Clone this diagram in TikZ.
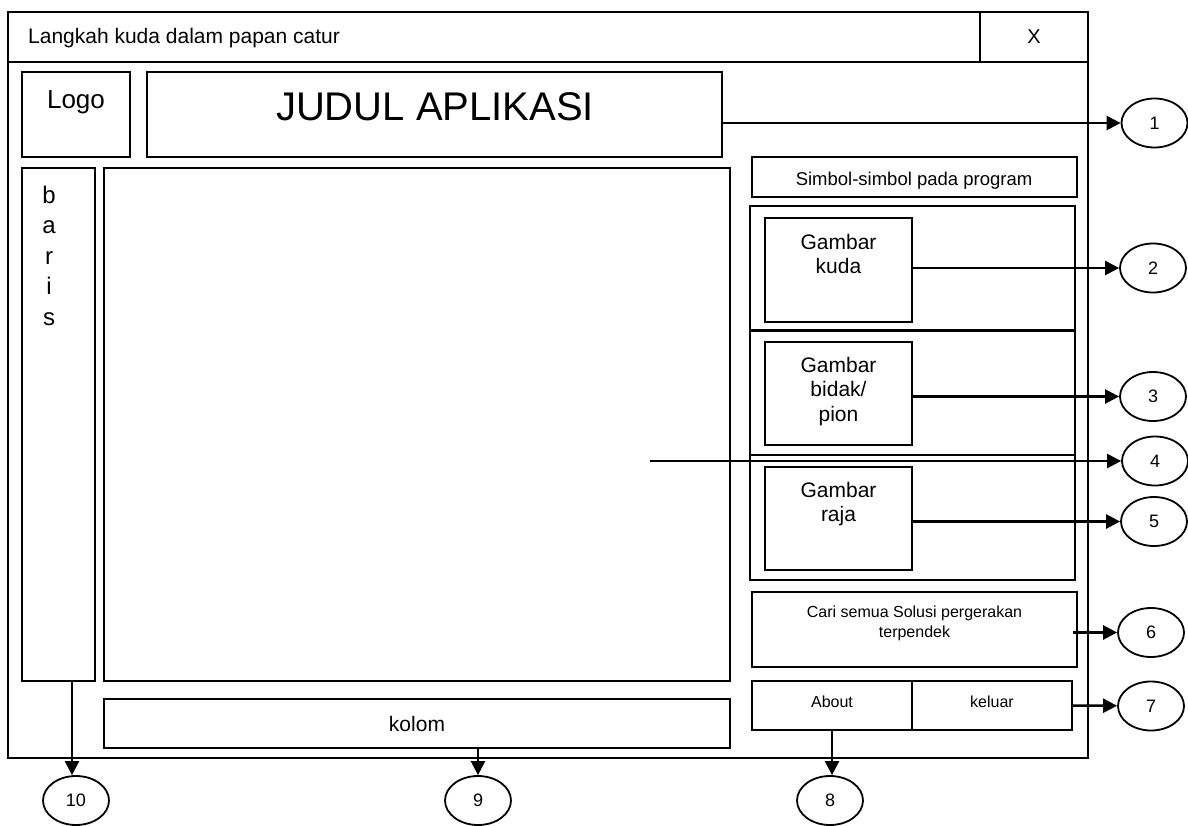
\documentclass[tikz,border=0pt]{standalone}
\usepackage{fontspec}
\setmainfont{Liberation Sans}
\usetikzlibrary{arrows.meta, positioning, fit, shapes.geometric}
\newcommand{\fsz}[2]{\fontsize{#1}{#2}\selectfont}

\begin{document}
\begin{tikzpicture}[x=1pt, y=-1pt,
    box/.style={draw, line width=2.2pt, inner sep=0pt},
    num/.style={draw, ellipse, line width=1.8pt, minimum width=66pt, minimum height=49pt, inner sep=0pt, font=\fsz{18}{20}},
    arr/.style={line width=2.5pt, -{Triangle[length=14pt,width=14pt]}},
    txt/.style={inner sep=0pt, align=center}]
    \useasboundingbox (0,0) rectangle (1188,825);
    % window frame
    \node[box, fit={(8,12) (1088,758)}] (win) {};
    \node[box, fit={(8,12) (1088,62)}] (bar) {};
    \node[box, fit={(980,12) (1088,62)}] (close) {};
    \node[txt, anchor=base west, font=\fsz{21}{24}] (ttl) at (28,43) {Langkah kuda dalam papan catur};
    \node[txt, anchor=base, font=\fsz{20}{24}] (xlbl) at (1034,43) {X};
    % header
    \node[box, fit={(22,72) (130,157)}] (logo) {};
    \node[txt, anchor=base, font=\fsz{26}{30}] (logotxt) at (76,108) {Logo};
    \node[box, fit={(147,72) (722,157)}] (judul) {};
    \node[txt, anchor=base, font=\fsz{40}{44}] (judultxt) at (435,120) {JUDUL APLIKASI};
    % board, rows and columns
    \node[box, fit={(22,168) (95,681)}] (baris) {};
    \foreach \ch [count=\i from 0] in {b,a,r,i,s}
        \node[txt, anchor=base, font=\fsz{24}{28}] (baris\ch) at (49,{203+30.5*\i}) {\ch};
    \node[box, fit={(104,168) (730,681)}] (papan) {};
    \node[box, fit={(104,699) (730,748)}] (kolom) {};
    \node[txt, anchor=base, font=\fsz{21}{24}] (kolomtxt) at (417,731) {kolom};
    % symbols
    \node[box, fit={(752,157) (1077,197)}] (simbol) {};
    \node[txt, anchor=base, font=\fsz{18.5}{22}] (simboltxt) at (914,185) {Simbol-simbol pada program};
    \node[box, fit={(750,206) (1075,580)}] (grup) {};
    \draw[line width=2.2pt] (750,330.5) -- (1075,330.5);
    \draw[line width=2.2pt] (750,455) -- (1075,455);
    \node[box, fit={(765,218) (912,322)}] (kuda) {};
    \node[txt, anchor=north, font=\fsz{21}{24}] (kudatxt) at (838.5,234) {Gambar\\kuda};
    \node[box, fit={(765,342) (912,445)}] (bidak) {};
    \node[txt, anchor=north, font=\fsz{21}{24.5}] (bidaktxt) at (838.5,357) {Gambar\\bidak/\\pion};
    \node[box, fit={(765,467) (912,570)}] (raja) {};
    \node[txt, anchor=north, font=\fsz{21}{24}] (rajatxt) at (838.5,482) {Gambar\\raja};
    % buttons
    \node[box, fit={(752,592) (1077,667)}] (cari) {};
    \node[txt, anchor=north, font=\fsz{16}{20}] (caritxt) at (914.5,605.5) {Cari semua Solusi pergerakan\\terpendek};
    \node[box, fit={(752,681) (912,730)}] (about) {};
    \node[box, fit={(912,681) (1072,730)}] (keluar) {};
    \node[txt, anchor=base, font=\fsz{16}{20}] (abouttxt) at (832,707) {About};
    \node[txt, anchor=base, font=\fsz{16}{20}] (keluartxt) at (992,707) {keluar};
    % numbered callouts
    \node[num] (n1) at (1154.5,123) {1};
    \node[num] (n2) at (1153,268) {2};
    \node[num] (n3) at (1153,396.5) {3};
    \node[num] (n4) at (1155,461) {4};
    \node[num] (n5) at (1154,521.5) {5};
    \node[num] (n6) at (1151,632.5) {6};
    \node[num] (n7) at (1151,706) {7};
    \node[num] (n8) at (830,800.5) {8};
    \node[num] (n9) at (478,800.5) {9};
    \node[num] (n10) at (76,800.5) {10};
    \coordinate (p4) at (650,461);
    \coordinate (p6) at (1073,632.5);
    \coordinate (p10) at (72,681);
    \draw[arr] (n1 -| judul.east) -- (n1);
    \draw[arr] (n2 -| kuda.east) -- (n2);
    \draw[arr] (n3 -| bidak.east) -- (n3);
    \draw[arr] (p4) -- (n4);
    \draw[arr] (n5 -| raja.east) -- (n5);
    \draw[arr] (p6) -- (n6);
    \draw[arr] (keluar.east) -- (n7);
    \draw[arr] (about.south) -- (about.south |- n8.north);
    \draw[arr] (n9 |- kolom.south) -- (n9);
    \draw[arr] (p10) -- (p10 |- n10.north);
\end{tikzpicture}
\end{document}
